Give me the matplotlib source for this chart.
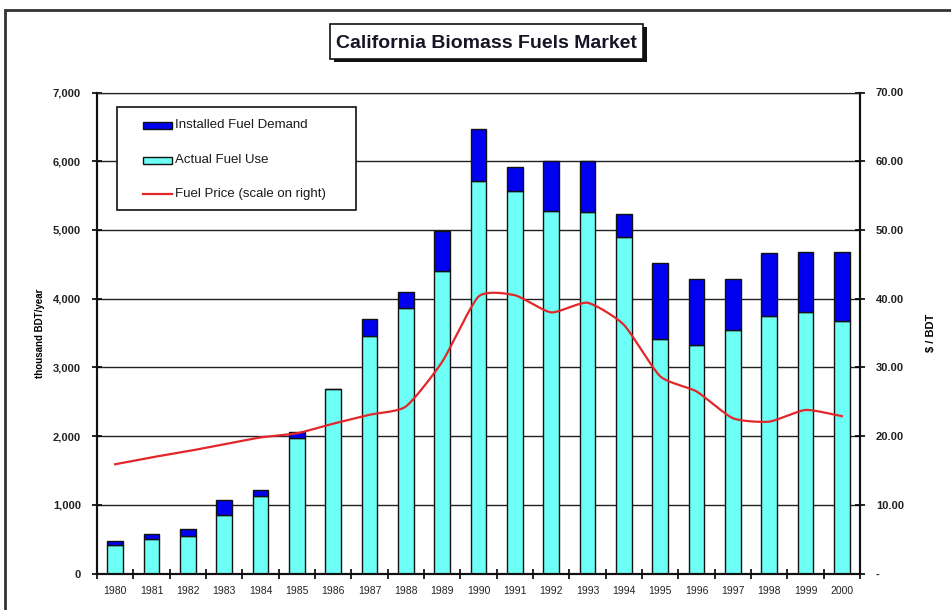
import numpy as np
import matplotlib
matplotlib.use("Agg")
import matplotlib.pyplot as plt
from matplotlib.patches import Rectangle
from matplotlib.lines import Line2D
from matplotlib.ticker import FuncFormatter, FixedLocator

plt.rcParams['font.family'] = ['Liberation Sans', 'DejaVu Sans']

years = [str(y) for y in range(1980, 2001)]
installed_demand = [472, 578, 646, 1070, 1219, 2063, 2680, 3700, 4090, 4990,
                    6470, 5920, 6010, 6010, 5230, 4520, 4290, 4290, 4670, 4680, 4680]
actual_use = [410, 496, 545, 853, 1133, 1966, 2680, 3456, 3870, 4400,
              5710, 5570, 5280, 5260, 4900, 3410, 3320, 3540, 3750, 3800, 3670]
fuel_price = [15.9, 16.9, 17.8, 18.8, 19.8, 20.4, 21.8, 23.1, 24.3, 30.8,
              40.3, 40.5, 38.0, 39.4, 36.2, 28.7, 26.5, 22.6, 22.1, 23.8, 22.9]

BLUE = '#0000F0'
CYAN = '#6EFFF6'
RED = '#E3262A'
INK = '#111111'

W, H = 951, 610


def smooth(x, y, n=20, k=0.6):
    """Cardinal-spline curve through the points (k scales the tangents)."""
    x = np.asarray(x, float)
    y = np.asarray(y, float)
    px = np.concatenate([[2 * x[0] - x[1]], x, [2 * x[-1] - x[-2]]])
    py = np.concatenate([[2 * y[0] - y[1]], y, [2 * y[-1] - y[-2]]])
    t = np.linspace(0, 1, n, endpoint=False)
    h00 = 2 * t ** 3 - 3 * t ** 2 + 1
    h10 = t ** 3 - 2 * t ** 2 + t
    h01 = -2 * t ** 3 + 3 * t ** 2
    h11 = t ** 3 - t ** 2
    xs, ys = [], []
    for i in range(1, len(px) - 2):
        for arr, out in ((px, xs), (py, ys)):
            p0, p1, p2, p3 = arr[i - 1], arr[i], arr[i + 1], arr[i + 2]
            m1 = k * (p2 - p0) / 2
            m2 = k * (p3 - p1) / 2
            out.extend(h00 * p1 + h10 * m1 + h01 * p2 + h11 * m2)
    xs.append(x[-1])
    ys.append(y[-1])
    return np.array(xs), np.array(ys)


def fx(px):
    return px / W


def fy(py):
    return 1 - py / H


fig = plt.figure(figsize=(W / 100, H / 100), dpi=100)
ax = fig.add_axes([fx(97), fy(573.5), (860 - 97) / W, (573.5 - 92.5) / H])
ax2 = ax.twinx()

pos = np.arange(len(years))
extra = np.array(installed_demand) - np.array(actual_use)

# horizontal grid at every 1,000
for v in range(1000, 8000, 1000):
    ax.axhline(v, color='#222222', lw=1.0, zorder=0)

ax.bar(pos, actual_use, width=0.44, color=CYAN, edgecolor=INK, lw=1.0, zorder=2)
ax.bar(pos, extra, bottom=actual_use, width=0.44, color=BLUE, edgecolor=INK,
       lw=1.0, zorder=2)

sx, sy = smooth(pos, fuel_price)
ax2.plot(sx, sy, color=RED, lw=1.6, zorder=3)

ax.set_xlim(-0.5, len(years) - 0.5)
ax.set_ylim(0, 7000)
ax2.set_ylim(0, 70)

ax.set_yticks(range(0, 8000, 1000))
ax.yaxis.set_major_formatter(FuncFormatter(lambda v, p: f'{int(v):,}'))
ax2.set_yticks(range(0, 80, 10))
ax2.yaxis.set_major_formatter(FuncFormatter(lambda v, p: '-' if v == 0 else f'{v:.2f}'))

ax.set_xticks(pos)
ax.set_xticklabels(years)
ax.xaxis.set_minor_locator(FixedLocator(np.arange(-0.5, len(years), 1.0)))
ax.tick_params(axis='x', which='major', length=0, pad=9, labelsize=7.5)
ax.tick_params(axis='x', which='minor', direction='inout', length=7, width=1.2)
ax.tick_params(axis='y', direction='inout', length=7, width=1.2, labelsize=8, pad=8)
ax2.tick_params(axis='y', direction='inout', length=7, width=1.2, labelsize=8, pad=8)

for lab in ax.get_yticklabels() + ax2.get_yticklabels():
    lab.set_fontweight('bold')
    lab.set_color('#222222')
for lab in ax.get_xticklabels():
    lab.set_color('#222222')

for a in (ax, ax2):
    a.spines['top'].set_color('#222222')
    for s in ('left', 'right', 'bottom'):
        a.spines[s].set_linewidth(1.5)
        a.spines[s].set_color(INK)

ax.set_ylabel('thousand BDT/year', fontsize=7, fontweight='bold', labelpad=6)
ax2.set_ylabel('$ / BDT', fontsize=8, fontweight='bold', rotation=90, labelpad=16)

# legend box
fig.add_artist(Rectangle((fx(117), fy(210)), (356 - 117) / W, (210 - 107) / H,
                         transform=fig.transFigure, facecolor='white',
                         edgecolor=INK, lw=1.2, zorder=10))
legend_items = [('Installed Fuel Demand', 'patch', BLUE, 125),
                ('Actual Fuel Use', 'patch', CYAN, 160),
                ('Fuel Price (scale on right)', 'line', RED, 194)]
for label, kind, color, yc in legend_items:
    if kind == 'patch':
        fig.add_artist(Rectangle((fx(143), fy(yc + 3.5)), 29 / W, 7 / H,
                                 transform=fig.transFigure, facecolor=color,
                                 edgecolor=INK, lw=1.0, zorder=11))
    else:
        fig.add_artist(Line2D([fx(143), fx(172)], [fy(yc), fy(yc)],
                              transform=fig.transFigure, color=color, lw=1.6,
                              zorder=11))
    fig.text(fx(175), fy(yc), label, ha='left', va='center', fontsize=9.5,
             color='#1a1a1a', zorder=12)

# title in a box with a drop shadow
fig.add_artist(Rectangle((fx(334), fy(62)), 313 / W, 35 / H,
                         transform=fig.transFigure, facecolor=INK,
                         edgecolor='none', zorder=1))
fig.add_artist(Rectangle((fx(330), fy(59)), 313 / W, 35 / H,
                         transform=fig.transFigure, facecolor='white',
                         edgecolor=INK, lw=1.2, zorder=2))
fig.text(fx(486), fy(44), 'California Biomass Fuels Market',
         ha='center', va='center', fontsize=14, fontweight='bold',
         color='#151525', zorder=3)

# outer chart border
fig.add_artist(Rectangle((fx(5), -0.05), 1.0, fy(10) + 0.05,
                         transform=fig.transFigure, facecolor='none',
                         edgecolor='#333333', lw=2.0, zorder=0))

fig.savefig('out.png', dpi=100)
